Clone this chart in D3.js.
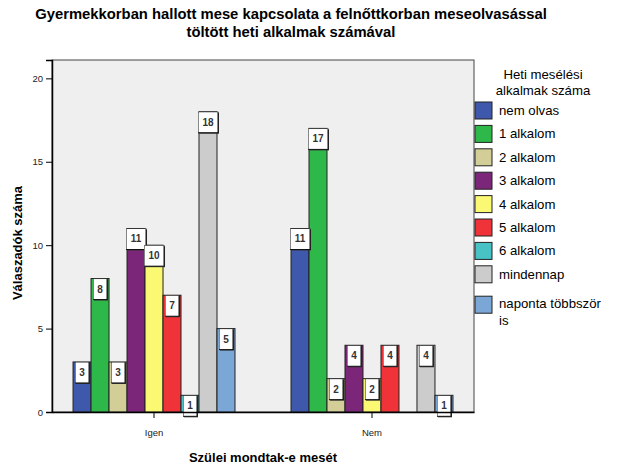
<!DOCTYPE html>
<html>
<head>
<meta charset="utf-8">
<style>
  body { margin: 0; background: #fff; }
  svg text { font-family: "Liberation Sans", Arial, sans-serif; }
  .title { font-size: 14.8px; font-weight: bold; fill: #000; }
  .axisTitle { font-size: 13px; font-weight: bold; fill: #000; }
  .tick text { font-size: 9.5px; fill: #222; }
  .legendText { font-size: 13.2px; fill: #000; }
  .valText { font-size: 10px; font-weight: bold; fill: #333; }
</style>
</head>
<body>
<svg id="chart" width="617" height="466"></svg>
<script src="https://cdnjs.cloudflare.com/ajax/libs/d3/7.8.5/d3.min.js"></script>
<script>

var groups = ["Igen", "Nem"];
var categories = ["nem olvas", "1 alkalom", "2 alkalom", "3 alkalom", "4 alkalom",
                  "5 alkalom", "6 alkalom", "mindennap", "naponta többször is"];
var colors = ["#3e58ac", "#2eb84a", "#d3ce97", "#7b2679", "#fbf873",
              "#ef3338", "#48c2c5", "#cccccc", "#7ba7d7"];
var igenValues = [3, 8, 3, 11, 10, 7, 1, 18, 5];
var nemValues = [11, 17, 2, 4, 2, 4, 0, 4, 1];
var yTicks = [0, 5, 10, 15, 20];

var svg = d3.select("#chart"),
    margin = {top: 60, left: 52, right: 143, bottom: 54},
    width = +svg.attr("width") - margin.left - margin.right,
    height = +svg.attr("height") - margin.top - margin.bottom;

var g = svg.append("g").attr("transform", "translate(" + margin.left + "," + margin.top + ")");

var x0 = d3.scaleBand()
    .domain(groups)
    .range([0, width])
    .paddingInner(0.257)
    .paddingOuter(0.0965);

var x1 = d3.scaleBand()
    .domain(categories)
    .range([0, x0.bandwidth()]);

var y = d3.scaleLinear()
    .domain([0, 21.1])
    .range([height, 0]);

var color = d3.scaleOrdinal().domain(categories).range(colors);

var rows = groups.map(function(grp, i) {
  var vals = i === 0 ? igenValues : nemValues;
  return { group: grp, items: categories.map(function(c, j) { return { cat: c, value: vals[j] }; }) };
});

// plot background
g.append("rect")
    .attr("width", width)
    .attr("height", height)
    .attr("fill", "#efefef")
    .attr("stroke", "#444")
    .attr("stroke-width", 1);

g.append("clipPath").attr("id", "plotClip")
  .append("rect").attr("width", width).attr("height", height);

// bars
var grp = g.selectAll(".grp").data(rows).enter().append("g")
    .attr("class", "grp")
    .attr("transform", function(d) { return "translate(" + x0(d.group) + ",0)"; });

grp.selectAll("rect.bar")
  .data(function(d) { return d.items.filter(function(e) { return e.value > 0; }); })
  .enter().append("rect")
    .attr("class", "bar")
    .attr("x", function(d) { return x1(d.cat); })
    .attr("y", function(d) { return y(d.value); })
    .attr("width", x1.bandwidth())
    .attr("height", function(d) { return height - y(d.value); })
    .attr("fill", function(d) { return color(d.cat); })
    .attr("stroke", "#222")
    .attr("stroke-width", 1);

// value labels
var boxW = function(d) { return String(d.value).length > 1 ? 20 : 14; };

var lab = grp.selectAll("g.lab")
  .data(function(d) { return d.items.filter(function(e) { return e.value > 0; }); })
  .enter().append("g")
    .attr("class", "lab")
    .attr("clip-path", "url(#plotClip)")
    .attr("transform", function(d) {
      return "translate(" + (x1(d.cat) + x1.bandwidth() / 2 - boxW(d) / 2) + "," + y(d.value) + ")";
    });

lab.append("rect")
    .attr("x", 1).attr("y", 1)
    .attr("width", boxW)
    .attr("height", 21)
    .attr("fill", "#333");

lab.append("rect")
    .attr("width", boxW)
    .attr("height", 21)
    .attr("fill", "#fff")
    .attr("stroke", "#111")
    .attr("stroke-width", 1);

lab.append("text")
    .attr("class", "valText")
    .attr("x", function(d) { return boxW(d) / 2; })
    .attr("y", 14)
    .attr("text-anchor", "middle")
    .text(function(d) { return d.value; });

// axes
var yAxis = g.append("g")
    .call(d3.axisLeft(y).tickValues(yTicks).tickSize(6).tickPadding(3));
yAxis.select(".domain").attr("stroke", "#000").attr("stroke-width", 1.5);

var xAxis = g.append("g")
    .attr("transform", "translate(0," + height + ")")
    .call(d3.axisBottom(x0).tickSize(6).tickPadding(11).tickSizeOuter(0));
xAxis.select(".domain").attr("stroke", "#000").attr("stroke-width", 1.5);

// titles
svg.append("text").attr("class", "title")
    .attr("x", 291).attr("y", 19)
    .attr("text-anchor", "middle")
    .text("Gyermekkorban hallott mese kapcsolata a felnőttkorban meseolvasással");
svg.append("text").attr("class", "title")
    .attr("x", 291).attr("y", 37)
    .attr("text-anchor", "middle")
    .text("töltött heti alkalmak számával");

svg.append("text").attr("class", "axisTitle")
    .attr("transform", "translate(22," + 243 + ") rotate(-90)")
    .attr("text-anchor", "middle")
    .text("Válaszadók száma");

svg.append("text").attr("class", "axisTitle")
    .attr("x", margin.left + width / 2).attr("y", 462)
    .attr("text-anchor", "middle")
    .text("Szülei mondtak-e mesét");

// legend
var legend = svg.append("g").attr("transform", "translate(475,0)");
legend.append("text").attr("class", "legendText")
    .attr("x", 68).attr("y", 79).attr("text-anchor", "middle").text("Heti mesélési");
legend.append("text").attr("class", "legendText")
    .attr("x", 68).attr("y", 95).attr("text-anchor", "middle").text("alkalmak száma");

var item = legend.selectAll("g.item").data(categories).enter().append("g")
    .attr("class", "item")
    .attr("transform", function(d, i) { return "translate(0," + (102 + i * 23.4 + (i === 8 ? 7 : 0)) + ")"; });

item.append("rect")
    .attr("width", 17).attr("height", 17)
    .attr("fill", function(d) { return color(d); })
    .attr("stroke", "#222").attr("stroke-width", 1);

item.each(function(d) {
  var t = d3.select(this).append("text").attr("class", "legendText").attr("x", 24).attr("y", 13);
  if (d === "naponta többször is") {
    t.append("tspan").attr("x", 24).attr("dy", -1).text("naponta többször");
    t.append("tspan").attr("x", 24).attr("dy", 17).text("is");
  } else {
    t.text(d);
  }
});

</script>
</body>
</html>
